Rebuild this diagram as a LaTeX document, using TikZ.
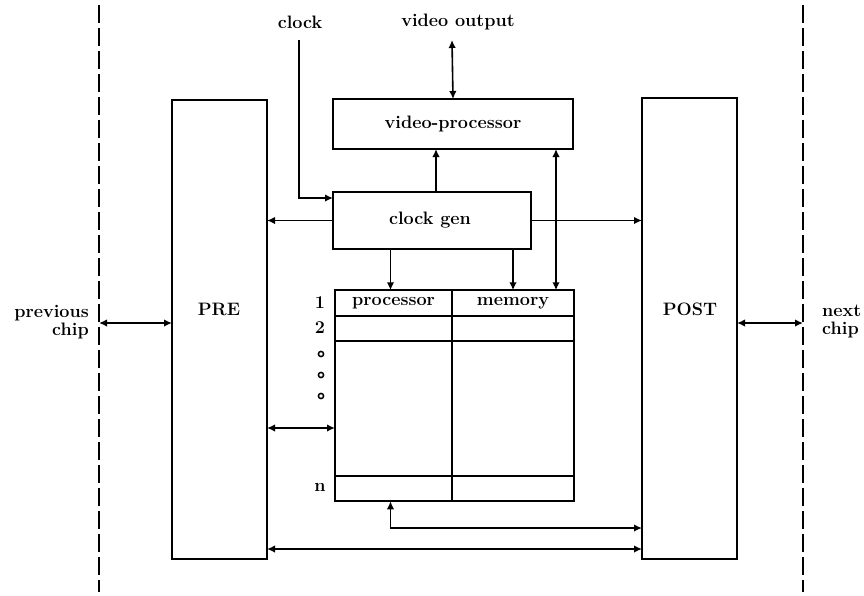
\documentclass[tikz,border=0pt]{standalone}
\usetikzlibrary{arrows.meta,calc}
\begin{document}
\begin{tikzpicture}[x=1pt,y=-1pt,
  every node/.style={font=\fontsize{18}{21}\selectfont\bfseries},
  box/.style={draw,line width=1.9pt,inner sep=0pt,outer sep=0pt},
  cell/.style={draw,line width=1.9pt,inner sep=0pt,outer sep=0pt,
               minimum height=25.5pt},
  txt/.style={inner sep=0pt},
  link/.style={line width=1.6pt,-{Latex[length=8pt,width=7.5pt]}},
  dlink/.style={line width=1.6pt,{Latex[length=8pt,width=7.5pt]}-{Latex[length=8pt,width=7.5pt]}},
  border/.style={line width=1.3pt,dash pattern=on 18pt off 5pt}]
\useasboundingbox (0,0) rectangle (864,595);

% chip boundaries
\draw[border] (99,5) -- (99,592);
\draw[border] (803,5) -- (803,592);

% input / output stages
\node[box,minimum width=95pt,minimum height=459pt] (pre) at (219.5,329.5) {};
\node[txt] at (219,309) {PRE};
\node[box,minimum width=95pt,minimum height=461pt] (post) at (689.5,328.5) {};
\node[txt] at (690,309) {POST};

% video processor and clock generator
\node[box,minimum width=240pt,minimum height=50pt] (vp) at (453,124) {video-processor};
\node[box,minimum width=198pt,minimum height=57pt] (cg) at (432,220.5) {};
\node[txt] at (430,220) {clock gen};

% processor / memory array
\node[cell,minimum width=117pt] (p1) at (393.5,303) {processor};
\node[cell,minimum width=122pt] (m1) at (513,303) {memory};
\node[cell,minimum width=117pt] (p2) at (393.5,328.5) {};
\node[cell,minimum width=122pt] (m2) at (513,328.5) {};
\node[cell,minimum width=117pt,minimum height=135pt] (pm) at (393.5,408.5) {};
\node[cell,minimum width=122pt,minimum height=135pt] (mm) at (513,408.5) {};
\node[cell,minimum width=117pt] (pn) at (393.5,488.5) {};
\node[cell,minimum width=122pt] (mn) at (513,488.5) {};

% row labels
\node[txt] (r1) at (320,303) {1};
\node[txt] (r2) at (320,328) {2};
\foreach \yy in {354,375,396}
  \draw[line width=1.5pt] (321,\yy) circle (2.6pt);
\node[txt] (rn) at (320,487) {n};

% external labels
\node[txt] (clk) at (300,22) {clock};
\node[txt] (vout) at (458,22) {video output};
\node[txt,align=right,anchor=east] (prev) at (89,322) {previous\\[-3pt]chip};
\node[txt,align=left,anchor=west] (next) at (822,322) {next\\[-3pt]chip};

% anchor points for the connectors
\coordinate (clktop) at (299,40);
\coordinate (vtop) at (452,40);
\coordinate (vmx) at (556,0);
\coordinate (prevend) at (99,323);
\coordinate (nextend) at (803,323);
\coordinate (arrin) at (335,428);
\coordinate (lowbus) at (0,528);
\coordinate (bus) at (0,549);

% connectors
\draw[link] (clktop) |- ($(cg.north west)+(0,6)$);
\draw[dlink] (vtop) -- (vp.north);
\draw[link] ([xshift=4pt]cg.north) -- ([xshift=4pt]cg.north |- vp.south);
\draw[dlink] (vp.south -| vmx) -- (m1.north -| vmx);
\draw[link] (cg.west) -- (cg.west -| pre.east);
\draw[link] (cg.east) -- (cg.east -| post.west);
\draw[link] ([xshift=-3pt]p1.north |- cg.south) -- ([xshift=-3pt]p1.north);
\draw[link] (m1.north |- cg.south) -- (m1.north);
\draw[dlink] (pre.east |- arrin) -- (arrin);
\draw[dlink] ([xshift=-3pt]pn.south) |- (post.west |- lowbus);
\draw[dlink] (pre.east |- bus) -- (post.west |- bus);
\draw[dlink] (prevend) -- (pre.west |- prevend);
\draw[dlink] (post.east |- nextend) -- (nextend);
\end{tikzpicture}
\end{document}
